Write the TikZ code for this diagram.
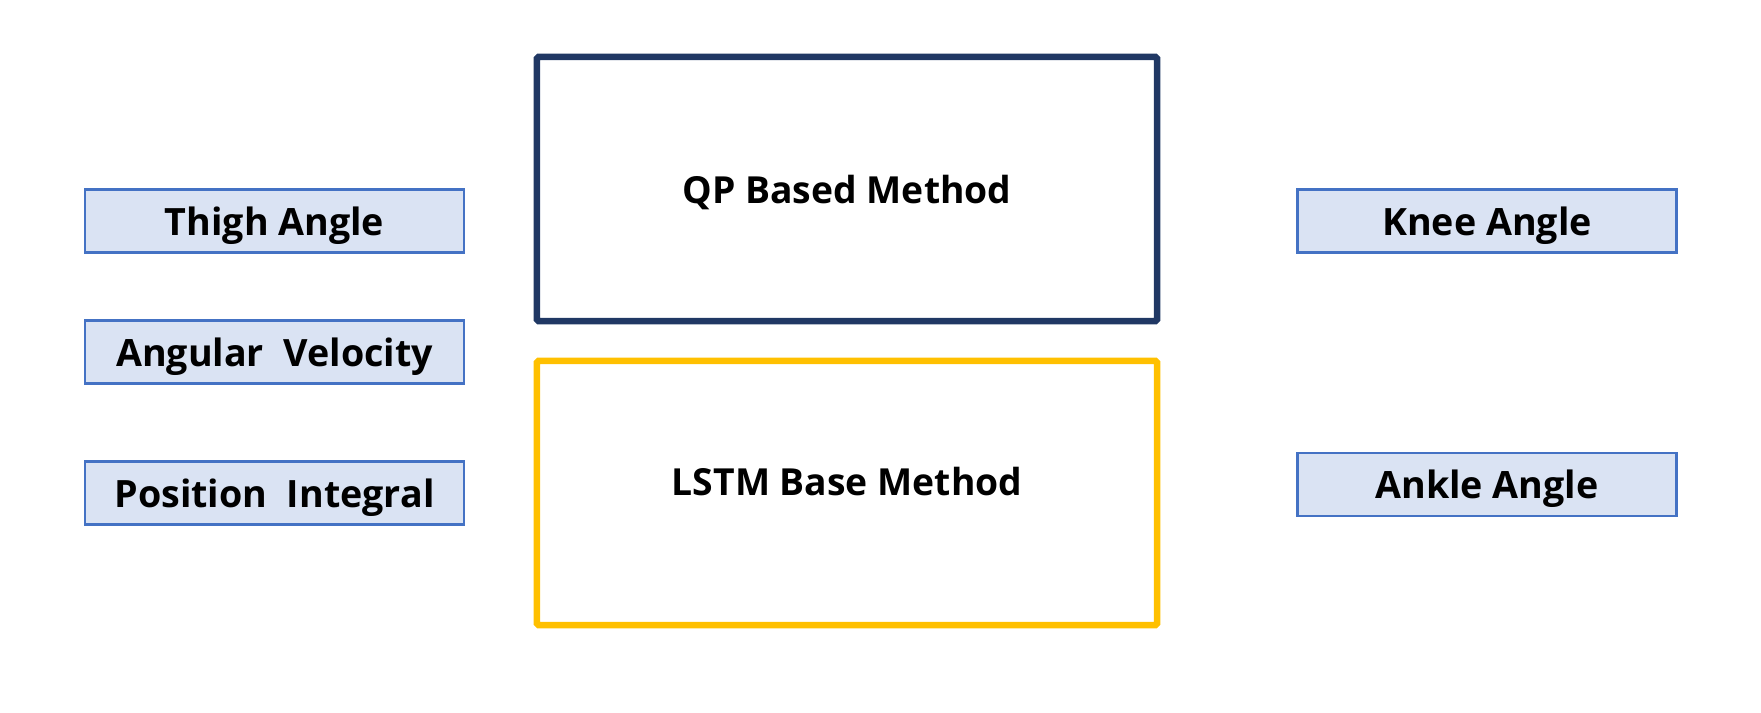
\documentclass[tikz,border=0pt]{standalone}
\usepackage{fontspec}
\setmainfont{Open Sans}
\definecolor{inblue}{HTML}{4472C4}
\definecolor{infill}{HTML}{DAE3F3}
\definecolor{qpnavy}{HTML}{203864}
\definecolor{lstmgold}{HTML}{FFC000}
\tikzset{
  signal/.style={draw=inblue, fill=infill, line width=0.7pt,
    minimum width=3.79cm, minimum height=0.63cm, inner sep=0pt,
    text depth=0pt, font=\fontsize{10.7}{13}\selectfont\bfseries},
  method/.style={line width=1.85pt, rounded corners=0.5pt,
    minimum width=6.2cm, minimum height=2.64cm, inner sep=0pt,
    font=\fontsize{10.6}{13}\selectfont\bfseries}
}
\begin{document}
\begin{tikzpicture}[x=0.01cm, y=-0.01cm]
  \useasboundingbox (0,0) rectangle (1761,712);

  % inputs
  \node[signal] (thigh) at (274.5,221) {Thigh Angle};
  \node[signal] (vel)   at (274.5,352) {Angular\ \ Velocity};
  \node[signal] (pos)   at (274.5,493) {Position\ \ Integral};

  % methods
  \node[method, draw=qpnavy, text depth=0pt]     (qp)   at (847,189) {QP Based Method};
  \node[method, draw=lstmgold, text depth=6.5pt] (lstm) at (847,493) {LSTM Base Method};

  % outputs
  \node[signal] (knee)  at (1487,221)   {Knee Angle};
  \node[signal] (ankle) at (1487,484.5) {Ankle Angle};
\end{tikzpicture}
\end{document}
